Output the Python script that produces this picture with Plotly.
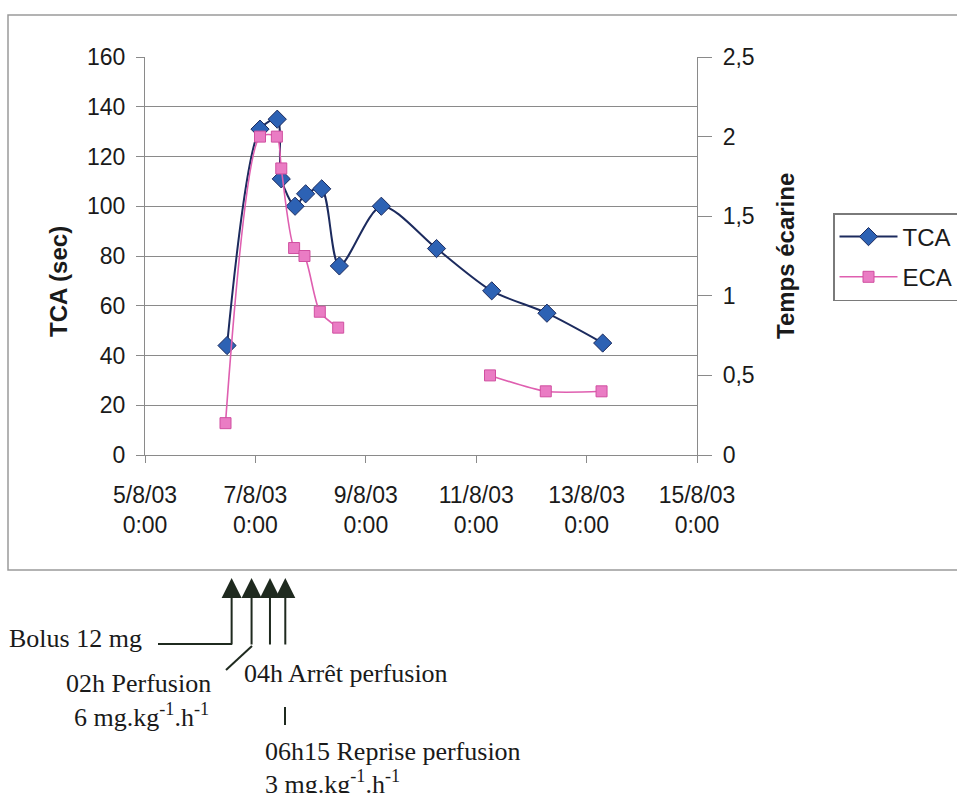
import plotly.graph_objects as go

# ---------------- data ----------------
tca_times = ["2003-08-06 11:40", "2003-08-07 02:00", "2003-08-07 09:30", "2003-08-07 11:15",
             "2003-08-07 17:15", "2003-08-07 21:50", "2003-08-08 04:50", "2003-08-08 12:30",
             "2003-08-09 06:45", "2003-08-10 06:45", "2003-08-11 06:45", "2003-08-12 06:45",
             "2003-08-13 07:00"]
tca_values = [44, 131, 135, 111, 100, 105, 107, 76, 100, 83, 66, 57, 45]

eca_times = ["2003-08-06 11:00", "2003-08-07 02:00", "2003-08-07 09:20", "2003-08-07 11:15",
             "2003-08-07 16:50", "2003-08-07 21:20", "2003-08-08 04:00", "2003-08-08 12:00",
             "2003-08-09 12:00",
             "2003-08-11 06:00", "2003-08-12 06:15", "2003-08-13 06:30"]
eca_values = [0.2, 2.0, 2.0, 1.8, 1.3, 1.25, 0.9, 0.8, None, 0.5, 0.4, 0.4]

x_tick_vals = ["2003-08-05", "2003-08-07", "2003-08-09", "2003-08-11", "2003-08-13", "2003-08-15"]
x_tick_text = ["5/8/03<br>0:00", "7/8/03<br>0:00", "9/8/03<br>0:00",
               "11/8/03<br>0:00", "13/8/03<br>0:00", "15/8/03<br>0:00"]
y2_tick_vals = [0, 0.5, 1, 1.5, 2, 2.5]
y2_tick_text = ["0", "0,5", "1", "1,5", "2", "2,5"]

event_times = ["2003-08-06 13:40", "2003-08-06 22:20", "2003-08-07 06:20", "2003-08-07 13:00"]

# ---------------- geometry helpers ----------------
W, H = 957, 793
L, R, T, B = 145, 697, 57, 455


def px(x):
    return (x - L) / (R - L)


def py(y):
    return (B - y) / (B - T)


SANS = "Liberation Sans, Arial, sans-serif"
SERIF = "Liberation Serif, Times New Roman, serif"
GRID = "#8a8a8a"
TXT = "#1a1a1a"
ARROW = "#1f2a1f"

fig = go.Figure()
fig.add_trace(go.Scatter(
    x=tca_times, y=tca_values, name="TCA", legendgroup="a",
    mode="lines+markers",
    line=dict(color="#1c2b5e", width=2, shape="spline", smoothing=0.8),
    marker=dict(symbol="diamond", size=14, color="#2d62b4", line=dict(color="#1c2b5e", width=1)),
))
fig.add_trace(go.Scatter(
    x=eca_times, y=eca_values, name="ECA", legendgroup="b", yaxis="y2",
    mode="lines+markers", connectgaps=False,
    line=dict(color="#df5fb0", width=1.6, shape="spline", smoothing=0.7),
    marker=dict(symbol="square", size=11, color="#ea7cc4", line=dict(color="#d04fa0", width=1)),
))

annotations = [
    dict(text="<b>TCA (sec)</b>", x=px(58), y=py(282), xref="paper", yref="paper",
         xanchor="center", yanchor="middle",
         textangle=-90, showarrow=False, font=dict(family=SANS, size=24, color=TXT)),
    dict(text="<b>Temps écarine</b>", x=px(785), y=py(256), xref="paper", yref="paper",
         xanchor="center", yanchor="middle",
         textangle=-90, showarrow=False, font=dict(family=SANS, size=24, color=TXT)),
]

# arrows for events
for t in event_times:
    annotations.append(dict(
        x=t, y=py(578), xref="x", yref="paper", text="", showarrow=True,
        ax=0, ay=68, arrowhead=2, arrowsize=2.0, arrowwidth=2, arrowcolor=ARROW,
    ))

serif_font = dict(family=SERIF, size=26, color=TXT)
texts = [
    ("Bolus 12 mg", 7, 638, "left"),
    ("02h Perfusion", 138, 683, "center"),
    ("6 mg.kg<sup>-1</sup>.h<sup>-1</sup>", 141, 715, "center"),
    ("04h Arrêt perfusion", 242, 673, "left"),
    ("06h15 Reprise perfusion", 263, 751, "left"),
    ("3 mg.kg<sup>-1</sup>.h<sup>-1</sup>", 263, 782, "left"),
]
for txt, x, y, anchor in texts:
    annotations.append(dict(text=txt, x=px(x), y=py(y), xref="paper", yref="paper",
                            xanchor=anchor, yanchor="middle", showarrow=False, font=serif_font))

shapes = [
    # outer chart frame
    dict(type="rect", xref="paper", yref="paper", x0=px(8), x1=px(1000), y0=py(570), y1=py(15),
         line=dict(color="#9a9a9a", width=1.5), layer="below"),
    # bolus connector
    dict(type="line", xref="paper", yref="paper", x0=px(158), x1=px(232), y0=py(644), y1=py(644),
         line=dict(color=ARROW, width=2)),
    # perfusion connector (diagonal)
    dict(type="line", xref="paper", yref="paper", x0=px(252), x1=px(226), y0=py(646), y1=py(670),
         line=dict(color=ARROW, width=2)),
    # small vertical tick
    dict(type="line", xref="paper", yref="paper", x0=px(285), x1=px(285), y0=py(707), y1=py(725),
         line=dict(color=ARROW, width=2)),
]

fig.update_layout(
    width=W, height=H,
    margin=dict(l=L, r=W - R, t=T, b=H - B, autoexpand=False),
    paper_bgcolor="white", plot_bgcolor="white",
    font=dict(family=SANS, size=23, color=TXT),
    showlegend=True,
    legend=dict(x=px(833), y=py(213), xanchor="left", yanchor="top",
                bordercolor="#7a7a7a", borderwidth=1.5, bgcolor="white",
                font=dict(family=SANS, size=24, color=TXT),
                traceorder="grouped", tracegroupgap=6, itemwidth=58),
    xaxis=dict(type="date", range=["2003-08-05", "2003-08-15"],
               tickvals=x_tick_vals, ticktext=x_tick_text,
               showgrid=False, zeroline=False, showline=True, linecolor=GRID, linewidth=1.2,
               ticks="outside", ticklen=7, tickcolor=GRID, tickwidth=1.2,
               ticklabelstandoff=12, tickfont=dict(size=23, color=TXT)),
    yaxis=dict(range=[0, 160], dtick=20, tick0=0,
               showgrid=True, gridcolor=GRID, gridwidth=1.2, zeroline=False,
               showline=True, linecolor=GRID, linewidth=1.2,
               ticks="outside", ticklen=8, tickcolor=GRID, tickwidth=1.2,
               ticklabelstandoff=6, tickfont=dict(size=23, color=TXT)),
    yaxis2=dict(range=[0, 2.5], overlaying="y", side="right",
                tickvals=y2_tick_vals, ticktext=y2_tick_text,
                showgrid=False, zeroline=False, showline=True, linecolor=GRID, linewidth=1.2,
                ticks="outside", ticklen=14, tickcolor=GRID, tickwidth=1.2,
                ticklabelstandoff=6, tickfont=dict(size=23, color=TXT)),
    annotations=annotations,
    shapes=shapes,
)

fig.write_html("out.html", config={"displayModeBar": False},
               post_script="document.body.style.margin='0';document.body.style.overflow='hidden';")
